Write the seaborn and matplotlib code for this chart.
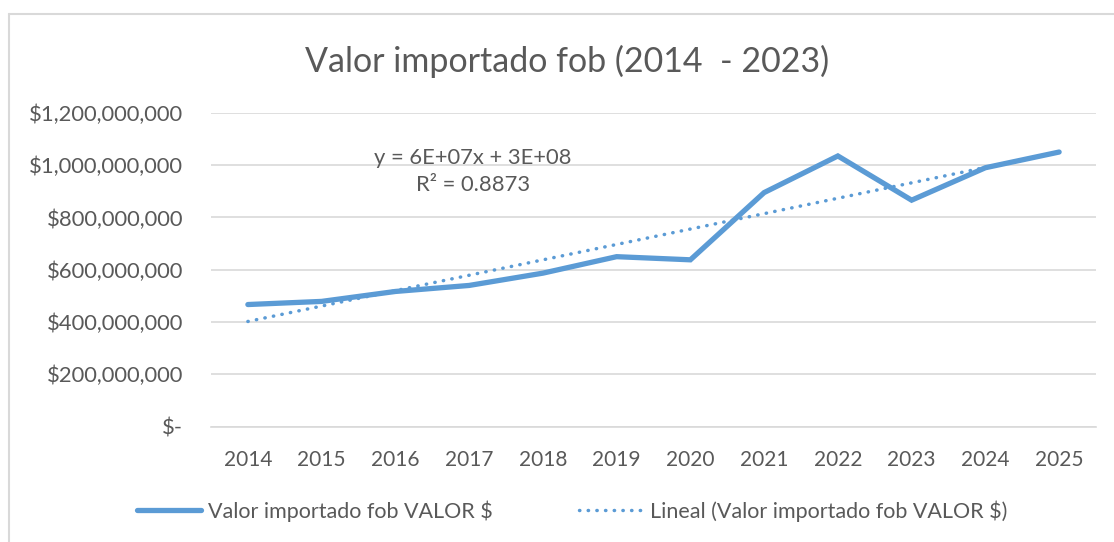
import numpy as np
import pandas as pd
import matplotlib
matplotlib.use("Agg")
import matplotlib.pyplot as plt
from matplotlib.lines import Line2D
from matplotlib.ticker import FuncFormatter
import seaborn as sns

years = ["2014", "2015", "2016", "2017", "2018", "2019", "2020", "2021", "2022", "2023", "2024", "2025"]
valores = [467e6, 479e6, 517e6, 540e6, 587e6, 650e6, 638e6, 895e6, 1035e6, 866e6, 990e6, 1050e6]
yticks = [0, 200e6, 400e6, 600e6, 800e6, 1000e6, 1200e6]
title = "Valor importado fob (2014  - 2023)"
serie_label = "Valor importado fob VALOR $"
trend_label = "Lineal (Valor importado fob VALOR $)"
eq_text = "y = 6E+07x + 3E+08\nR² = 0.8873"

sns.set_theme(style="white")
plt.rcParams['font.family'] = ['Lato', 'DejaVu Sans']

BLUE = "#5B9BD5"
GRAY = "#595959"
GRID = "#D9D9D9"
DOT = (0, (0.1, 2.4))

df = pd.DataFrame({"idx": np.arange(len(years)), "valor": valores})
coef = np.polyfit(df["idx"] + 1, df["valor"], 1)
df["trend"] = np.polyval(coef, df["idx"] + 1)

fig = plt.figure(figsize=(11.14, 5.42), dpi=100)
ax = fig.add_axes([211/1114, 1 - 426.7/542, (1096-211)/1114, (426.7-112.8)/542])

sns.lineplot(data=df, x="idx", y="trend", ax=ax, color=BLUE, linewidth=2.5,
             linestyle=DOT, zorder=3)
ax.lines[-1].set_dash_capstyle("round")
sns.lineplot(data=df, x="idx", y="valor", ax=ax, color=BLUE, linewidth=3.8, zorder=4)
ax.lines[-1].set_solid_capstyle("round")
ax.lines[-1].set_solid_joinstyle("miter")

ax.set_xlim(-0.5, len(years) - 0.5)
ax.set_ylim(0, 1200e6)
ax.set_xticks(range(len(years)))
ax.set_xticklabels(years)
ax.set_yticks(yticks)
ax.yaxis.set_major_formatter(FuncFormatter(lambda v, p: "$-" if v == 0 else f"${v:,.0f}"))
ax.set_xlabel("")
ax.set_ylabel("")
ax.grid(axis="y", color=GRID, linewidth=1.2)
ax.set_axisbelow(True)
for s in ["top", "right", "left"]:
    ax.spines[s].set_visible(False)
ax.spines["bottom"].set_color(GRID)
ax.spines["bottom"].set_linewidth(1.2)
ax.tick_params(axis="y", length=0, pad=20, labelsize=15.8, labelcolor=GRAY)
ax.tick_params(axis="x", length=0, pad=17, labelsize=15, labelcolor=GRAY)

ax.text(3.05, 975e6, eq_text, ha="center", va="center", fontsize=15.8, color=GRAY, linespacing=1.4)

fig.text(567/1114, 1 - 61/542, title, ha="center", va="center", fontsize=24.5, color=GRAY)

handles = [Line2D([], [], color=BLUE, linewidth=3.8, solid_capstyle="round"),
           Line2D([], [], color=BLUE, linewidth=2.5, linestyle=DOT, dash_capstyle="round")]
fig.legend(handles, [serie_label, trend_label], loc="center", ncol=2,
           bbox_to_anchor=(572/1114, 1 - 511/542), frameon=False, fontsize=15.5,
           labelcolor=GRAY, handlelength=3.0, handletextpad=0.3, columnspacing=4.0)

# chart border (light gray)
fig.add_artist(Line2D([9/1114, 1], [1 - 14/542, 1 - 14/542], color=GRID, linewidth=1.5, transform=fig.transFigure))
fig.add_artist(Line2D([9/1114, 9/1114], [0, 1 - 14/542], color=GRID, linewidth=1.5, transform=fig.transFigure))

fig.savefig("out.png", dpi=100)
